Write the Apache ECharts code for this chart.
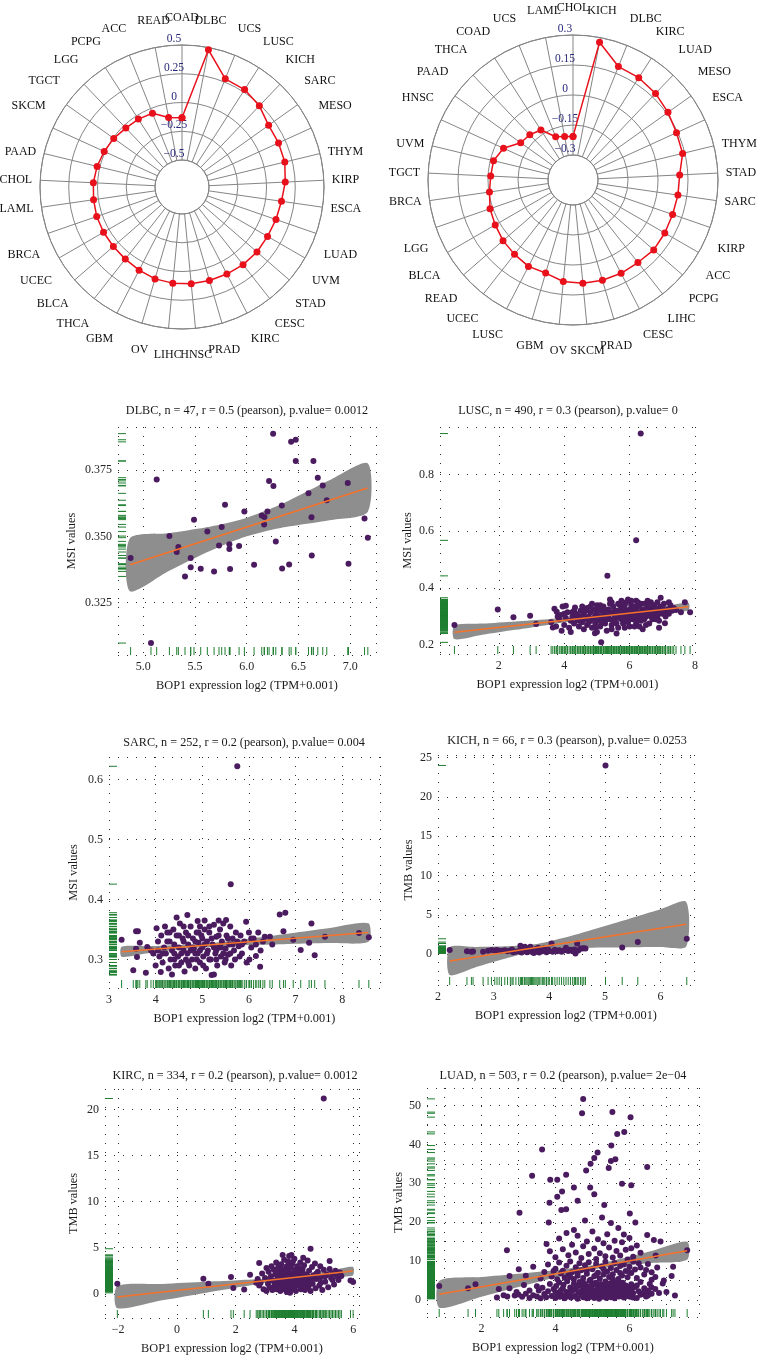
<!DOCTYPE html>
<html><head><meta charset="utf-8">
<script src="https://cdn.jsdelivr.net/npm/echarts@6/dist/echarts.min.js"></script>
<style>html,body{margin:0;padding:0;background:#fff}#c{width:765px;height:1358px}</style>
</head><body><div id="c"></div>
<script>
// ---------------- Radar data ----------------
const radar1Categories = ['COAD','DLBC','UCS','LUSC','KICH','SARC','MESO','THYM','KIRP','ESCA','LUAD','UVM','STAD','CESC','KIRC','PRAD','HNSC','LIHC','OV','GBM','THCA','BLCA','UCEC','BRCA','LAML','CHOL','PAAD','SKCM','TGCT','LGG','PCPG','ACC','READ'];
const radar1Values = [-0.132,0.480,0.278,0.272,0.240,0.190,0.188,0.185,0.164,0.139,0.130,0.124,0.128,0.124,0.117,0.112,0.111,0.105,0.098,0.079,0.063,0.055,0.053,0.050,0.042,0.037,0.025,0.009,-0.006,-0.027,-0.033,-0.044,-0.119];
const radar1Ticks = [-0.5,-0.25,0,0.25,0.5];
const radar1TickLabels = ['\u22120.5','\u22120.25','0','0.25','0.5'];

const radar2Categories = ['CHOL','KICH','DLBC','KIRC','LUAD','MESO','ESCA','THYM','STAD','SARC','KIRP','ACC','PCPG','LIHC','CESC','PRAD','SKCM','OV','GBM','LUSC','UCEC','READ','BLCA','LGG','BRCA','TGCT','UVM','HNSC','PAAD','THCA','COAD','UCS','LAML'];
const radar2Values = [-0.207,0.276,0.186,0.183,0.173,0.158,0.144,0.139,0.109,0.105,0.102,0.105,0.109,0.100,0.100,0.097,0.094,0.085,0.060,0.061,0.048,0.038,0.024,0.014,-0.003,-0.013,-0.016,-0.043,-0.104,-0.112,-0.128,-0.192,-0.203];
const radar2Ticks = [-0.3,-0.15,0,0.15,0.3];
const radar2TickLabels = ['\u22120.3','\u22120.15','0','0.15','0.3'];

// ---------------- Scatter panels data ----------------
const xAxisTitle = 'BOP1 expression log2 (TPM+0.001)';

// DLBC (MSI)
const dlbcTitle = 'DLBC, n = 47, r = 0.5 (pearson), p.value= 0.0012';
const dlbcPoints = [[4.877,0.3418],[5.074,0.3098],[5.129,0.3714],[5.252,0.3501],[5.323,0.3441],[5.339,0.346],[5.403,0.3349],[5.458,0.3418],[5.458,0.3384],[5.49,0.3563],[5.555,0.3378],[5.619,0.3518],[5.684,0.3368],[5.732,0.3466],[5.758,0.3535],[5.79,0.3619],[5.832,0.347],[5.832,0.3452],[5.839,0.3377],[5.926,0.3464],[5.977,0.3594],[6.071,0.3393],[6.145,0.3579],[6.168,0.3545],[6.171,0.3573],[6.2,0.3594],[6.216,0.3709],[6.255,0.3887],[6.258,0.369],[6.281,0.3481],[6.339,0.3616],[6.342,0.3379],[6.41,0.3394],[6.429,0.3856],[6.474,0.3864],[6.474,0.3784],[6.597,0.3662],[6.626,0.3572],[6.629,0.3428],[6.645,0.3784],[6.687,0.3721],[6.735,0.3692],[6.774,0.3636],[6.977,0.3701],[6.984,0.3397],[7.139,0.3567],[7.171,0.3495]];
const dlbcFit = [[4.871,0.3393],[7.168,0.3682]];
const dlbcBand = [[4.87,0.3293,0.3493],[5.25,0.3370,0.3512],[5.6,0.3437,0.3533],[5.8,0.3471,0.3549],[6.0,0.3500,0.3570],[6.2,0.3521,0.3599],[6.4,0.3537,0.3633],[6.8,0.3561,0.3711],[7.17,0.3592,0.3775]];
const dlbcXTicks = [5.0,5.5,6.0,6.5,7.0];
const dlbcXTickLabels = ['5.0','5.5','6.0','6.5','7.0'];
const dlbcYTicks = [0.325,0.35,0.375];
const dlbcYTickLabels = ['0.325','0.350','0.375'];

// LUSC (MSI)
const luscTitle = 'LUSC, n = 490, r = 0.3 (pearson), p.value= 0';
const luscPoints = [[0.642,0.270],[1.967,0.325],[2.446,0.297],[2.956,0.303],[3.14,0.274],[3.70,0.327],[3.77,0.317],[3.65,0.261],[3.92,0.25],[6.34,0.944],[6.2,0.568],[5.32,0.443],[5.13,0.209],[7.85,0.315],[7.69,0.35],[7.57,0.315],[7.42,0.323],[7.1,0.315],[7.08,0.276],[6.95,0.366],[4.94,0.241],[4.33,0.332],[4.05,0.338],
[3.6,0.28],[3.75,0.265],[3.85,0.29],[3.9,0.305],[4.0,0.27],[4.05,0.295],[4.1,0.315],[4.15,0.26],[4.2,0.285],[4.25,0.30],[4.3,0.275],[4.35,0.31],[4.4,0.29],[4.45,0.265],[4.5,0.32],[4.5,0.30],[4.55,0.28],[4.6,0.255],[4.6,0.31],[4.65,0.295],[4.7,0.33],[4.7,0.27],[4.75,0.30],[4.8,0.285],[4.8,0.315],[4.85,0.26],[4.9,0.325],[4.9,0.295],[4.95,0.275],[5.0,0.31],[5.0,0.34],[5.05,0.285],[5.1,0.30],[5.1,0.265],[5.15,0.32],[5.2,0.29],[5.2,0.335],[5.25,0.275],[5.3,0.305],[5.3,0.25],[5.35,0.325],[5.4,0.29],[5.4,0.345],[5.45,0.27],[5.5,0.31],[5.5,0.335],[5.55,0.285],[5.6,0.30],[5.6,0.32],[5.65,0.26],[5.7,0.34],[5.7,0.295],[5.75,0.315],[5.8,0.275],[5.8,0.33],[5.85,0.30],[5.9,0.35],[5.9,0.285],[5.95,0.32],[6.0,0.305],[6.0,0.265],[6.05,0.34],[6.1,0.29],[6.1,0.325],[6.15,0.31],[6.2,0.355],[6.2,0.275],[6.25,0.30],[6.3,0.335],[6.3,0.315],[6.35,0.285],[6.4,0.32],[6.45,0.345],[6.5,0.30],[6.5,0.27],[6.55,0.33],[6.6,0.31],[6.65,0.35],[6.7,0.29],[6.7,0.325],[6.75,0.34],[6.8,0.305],[6.85,0.32],[6.9,0.285],[6.95,0.335],[7.0,0.31],[7.05,0.345],[7.15,0.325],[7.25,0.34],[7.35,0.33],[4.2,0.245],[5.0,0.245],[5.6,0.24],[6.4,0.255],[5.95,0.36],[5.4,0.36],[4.85,0.345],[3.95,0.335],[6.15,0.265],[6.9,0.26],[5.25,0.32],[4.65,0.32],[5.75,0.355],[6.55,0.355],
[4.3,0.32],[4.4,0.305],[4.55,0.335],[4.6,0.29],[4.75,0.28],[4.8,0.335],[4.95,0.305],[5.0,0.29],[5.05,0.325],[5.15,0.28],[5.2,0.31],[5.3,0.29],[5.35,0.305],[5.45,0.315],[5.5,0.285],[5.55,0.32],[5.6,0.275],[5.65,0.31],[5.7,0.32],[5.75,0.29],[5.8,0.31],[5.85,0.325],[5.9,0.305],[5.95,0.28],[6.0,0.325],[6.05,0.3],[6.1,0.31],[6.15,0.335],[6.2,0.32],[6.25,0.29],[6.3,0.30],[6.35,0.345],[6.4,0.305],[6.45,0.29],[6.5,0.32],[6.55,0.31],[6.6,0.34],[6.65,0.3],[6.7,0.31],[6.75,0.32],[6.8,0.33],[6.85,0.3],[6.9,0.315],[7.0,0.33],[7.1,0.3],[7.2,0.31],[7.3,0.32],[5.1,0.34],[5.45,0.35],[5.65,0.345],[5.85,0.34],[6.05,0.355],[6.25,0.35],[4.95,0.26],[5.45,0.255],[5.85,0.26],[6.3,0.265],[6.6,0.275],[4.45,0.285],[4.25,0.315],[4.0,0.31],[3.8,0.30],[6.85,0.35],[7.2,0.35],[5.25,0.295],[5.55,0.3],[5.75,0.305],[6.45,0.325],[6.0,0.29],[6.8,0.29]];
const luscFit = [[0.642,0.2445],[7.8,0.3347]];
const luscBand = [[0.64,0.2205,0.2685],[1.5,0.2356,0.2750],[2.5,0.2531,0.2827],[3.5,0.2705,0.2905],[4.5,0.2874,0.2988],[5.3,0.2992,0.3072],[6.2,0.3084,0.3206],[7.0,0.3151,0.3341],[7.8,0.3214,0.3480]];
const luscXTicks = [2,4,6,8];
const luscXTickLabels = ['2','4','6','8'];
const luscYTicks = [0.2,0.4,0.6,0.8];
const luscYTickLabels = ['0.2','0.4','0.6','0.8'];

// SARC (MSI)
const sarcTitle = 'SARC, n = 252, r = 0.2 (pearson), p.value= 0.004';
const sarcPoints = [[3.27,0.333],[3.52,0.282],[3.58,0.347],[3.62,0.347],[3.66,0.328],[3.58,0.318],[3.6,0.304],[3.79,0.278],[3.82,0.321],[3.9,0.315],[3.95,0.31],[4.02,0.352],[4.05,0.33],[4.08,0.305],[4.11,0.279],[4.12,0.34],[4.15,0.295],[4.18,0.32],[4.2,0.355],[4.22,0.31],[4.25,0.345],[4.28,0.285],[4.3,0.33],[4.32,0.3],[4.35,0.315],[4.38,0.35],[4.4,0.325],[4.42,0.29],[4.45,0.34],[4.48,0.305],[4.5,0.32],[4.52,0.36],[4.55,0.295],[4.58,0.335],[4.6,0.315],[4.62,0.28],[4.65,0.345],[4.68,0.374],[4.68,0.31],[4.7,0.325],[4.72,0.29],[4.75,0.355],[4.78,0.3],[4.8,0.335],[4.82,0.318],[4.85,0.285],[4.88,0.345],[4.9,0.364],[4.9,0.31],[4.92,0.328],[4.95,0.295],[4.98,0.34],[5.0,0.32],[5.02,0.305],[5.05,0.35],[5.08,0.285],[5.1,0.33],[5.12,0.315],[5.15,0.345],[5.18,0.3],[5.2,0.274],[5.22,0.325],[5.25,0.358],[5.28,0.31],[5.3,0.338],[5.32,0.29],[5.35,0.32],[5.38,0.35],[5.4,0.305],[5.42,0.33],[5.45,0.36],[5.48,0.295],[5.5,0.318],[5.51,0.366],[5.52,0.34],[5.55,0.308],[5.58,0.325],[5.6,0.355],[5.62,0.29],[5.61,0.4256],[5.65,0.335],[5.68,0.315],[5.7,0.3],[5.72,0.345],[5.75,0.622],[5.78,0.322],[5.8,0.305],[5.82,0.34],[5.85,0.31],[5.9,0.33],[5.94,0.363],[5.95,0.295],[6.0,0.345],[6.01,0.30],[6.05,0.32],[6.1,0.335],[6.15,0.306],[6.2,0.345],[6.24,0.288],[6.3,0.33],[6.34,0.338],[6.45,0.338],[6.5,0.325],[6.66,0.375],[6.74,0.347],[6.78,0.378],[6.95,0.333],[7.11,0.316],[7.29,0.328],[7.34,0.36],[7.41,0.307],[7.63,0.338],[8.36,0.344],[8.57,0.337],[4.35,0.275],[5.25,0.275],[4.6,0.355],[5.05,0.365],[4.45,0.37],[5.35,0.365],[4.0,0.29],[6.25,0.315],
[4.25,0.33],[4.4,0.31],[4.5,0.34],[4.55,0.31],[4.6,0.33],[4.65,0.3],[4.7,0.34],[4.75,0.315],[4.8,0.32],[4.85,0.33],[4.88,0.3],[4.92,0.345],[4.95,0.315],[5.0,0.335],[5.02,0.29],[5.05,0.325],[5.1,0.31],[5.15,0.3],[5.2,0.335],[5.25,0.32],[5.3,0.3],[5.35,0.34],[5.4,0.32],[5.45,0.31],[5.5,0.3],[5.55,0.335],[5.65,0.325],[5.75,0.33],[5.85,0.325],[4.3,0.345],[4.15,0.31],[4.05,0.315],[4.95,0.355],[5.15,0.355],[4.7,0.295],[4.5,0.29],[4.85,0.31],[5.3,0.315],[5.6,0.31],[6.05,0.335],[6.15,0.325],[4.4,0.3]];
const sarcFit = [[3.27,0.3128],[8.56,0.345]];
const sarcBand = [[3.27,0.3045,0.3211],[3.8,0.3099,0.3221],[4.4,0.3157,0.3237],[5.0,0.3203,0.3263],[5.6,0.323,0.331],[6.2,0.3245,0.3367],[6.9,0.3259,0.3439],[7.7,0.3274,0.3522],[8.56,0.3295,0.3605]];
const sarcXTicks = [3,4,5,6,7,8];
const sarcXTickLabels = ['3','4','5','6','7','8'];
const sarcYTicks = [0.3,0.4,0.5,0.6];
const sarcYTickLabels = ['0.3','0.4','0.5','0.6'];

// KICH (TMB)
const kichTitle = 'KICH, n = 66, r = 0.3 (pearson), p.value= 0.0253';
const kichPoints = [[2.21,0.51],[2.52,0.35],[2.6,0.3],[2.63,0.33],[2.81,0.3],[2.9,0.42],[2.96,0.51],[3.02,0.45],[3.06,0.51],[3.1,0.38],[3.14,0.42],[3.2,0.5],[3.25,0.35],[3.3,0.45],[3.33,0.6],[3.35,0.25],[3.4,0.3],[3.45,0.4],[3.48,1.06],[3.5,0.2],[3.52,0.55],[3.55,0.35],[3.56,0.93],[3.58,0.6],[3.6,0.25],[3.62,0.45],[3.64,0.7],[3.66,0.93],[3.68,0.3],[3.7,0.5],[3.72,0.15],[3.74,0.4],[3.76,0.65],[3.78,0.3],[3.8,0.8],[3.82,0.2],[3.85,0.55],[3.88,0.35],[3.9,0.7],[3.92,0.45],[3.95,0.25],[3.98,0.6],[4.0,0.4],[4.04,1.36],[4.06,0.3],[4.1,0.55],[4.14,0.35],[4.18,0.5],[4.22,0.3],[4.26,0.45],[4.3,0.8],[4.34,0.4],[4.38,0.55],[4.42,0.35],[4.45,0.6],[4.47,0.08],[4.5,1.36],[4.52,0.45],[4.56,0.7],[4.59,0.72],[4.62,0.75],[4.65,0.72],[5.01,24.0],[5.31,0.85],[5.59,1.53],[6.47,1.95]];
const kichFit = [[2.21,-0.89],[6.46,3.81]];
const kichBand = [[2.21,-2.65,0.87],[2.7,-1.61,0.91],[3.2,-0.58,0.99],[3.8,0.42,1.32],[4.4,0.75,2.32],[5.0,0.84,3.56],[5.6,0.88,4.84],[6.0,0.90,5.70],[6.46,0.98,6.64]];
const kichXTicks = [2,3,4,5,6];
const kichXTickLabels = ['2','3','4','5','6'];
const kichYTicks = [0,5,10,15,20,25];
const kichYTickLabels = ['0','5','10','15','20','25'];

// KIRC (TMB)
const kircTitle = 'KIRC, n = 334, r = 0.2 (pearson), p.value= 0.0012';
const kircPoints = [[-2.03,1.09],[0.9,1.63],[1.07,1.09],[1.84,1.81],[1.92,0.62],[2.29,0.47],[2.49,2.07],[2.8,3.33],[4.55,4.89],[5.0,21.2],[5.2,3.55],[5.91,1.45],[6.0,1.27],[5.6,1.92],
[2.75,1.6],[2.8,0.9],[2.85,1.2],[2.9,2.2],[2.95,0.5],[3.0,1.7],[3.05,2.8],[3.05,0.3],[3.1,1.1],[3.12,2.4],[3.15,0.7],[3.2,1.9],[3.22,3.0],[3.25,0.4],[3.28,1.4],[3.3,2.6],[3.32,0.9],[3.35,2.1],[3.38,3.4],[3.4,0.5],[3.42,1.6],[3.45,2.9],[3.48,1.0],[3.5,2.3],[3.52,0.3],[3.55,1.8],[3.55,3.2],[3.58,0.8],[3.6,2.6],[3.62,1.3],[3.65,3.7],[3.65,0.5],[3.68,2.0],[3.7,1.1],[3.72,2.9],[3.74,0.2],[3.75,1.6],[3.78,3.5],[3.8,2.4],[3.8,0.7],[3.82,4.1],[3.84,1.3],[3.86,2.8],[3.88,0.4],[3.9,1.9],[3.92,3.2],[3.94,1.0],[3.96,2.2],[3.98,0.6],[4.0,3.8],[4.0,1.5],[4.02,2.6],[4.05,0.3],[4.08,1.8],[4.1,3.0],[4.12,0.9],[4.15,2.3],[4.18,1.2],[4.2,3.4],[4.22,0.5],[4.25,1.9],[4.28,2.7],[4.3,1.0],[4.33,3.1],[4.36,0.4],[4.4,2.1],[4.42,1.4],[4.45,3.6],[4.48,0.8],[4.5,2.5],[4.52,1.7],[4.55,0.3],[4.6,2.9],[4.62,1.1],[4.65,2.0],[4.7,3.3],[4.72,0.6],[4.75,1.6],[4.8,2.4],[4.85,0.9],[4.88,3.0],[4.9,1.8],[4.95,0.4],[5.0,2.6],[5.05,1.3],[5.1,2.1],[5.15,0.7],[5.2,2.7],[5.25,1.7],[5.3,2.2],[5.35,1.0],[5.4,2.5],[5.45,1.9],[5.5,1.5],[5.55,2.3],[3.6,4.2],[3.9,4.2],[4.3,3.9],[2.7,1.2],[3.15,1.5],[3.45,1.9],[3.7,0.9],[4.05,2.0],[4.35,1.6],[3.85,0.1],
[3.35,1.2],[3.45,0.7],[3.5,1.5],[3.6,2.0],[3.65,1.2],[3.7,2.4],[3.75,0.5],[3.8,1.7],[3.85,2.1],[3.9,0.8],[3.95,1.4],[4.0,2.3],[4.05,1.1],[4.1,1.6],[4.15,2.8],[4.2,0.8],[4.25,1.4],[4.3,2.2],[4.35,1.1],[4.4,0.7],[4.45,1.9],[4.5,1.2],[3.55,2.7],[3.75,3.0],[3.95,3.5],[4.1,2.5],[3.4,2.4],[3.65,1.7],[3.85,1.0],[4.0,0.9],[4.6,1.5],[4.75,2.2],[4.9,1.2],[5.05,1.9],[5.3,1.5]];
const kircFit = [[-2.03,-0.36],[5.99,2.46]];
const kircBand = [[-2.03,-1.56,0.84],[-0.5,-0.71,1.07],[1.0,0.12,1.30],[2.2,0.77,1.49],[3.2,1.29,1.68],[3.8,1.54,1.84],[4.5,1.73,2.15],[5.3,1.88,2.56],[5.99,1.99,2.93]];
const kircXTicks = [-2,0,2,4,6];
const kircXTickLabels = ['\u22122','0','2','4','6'];
const kircYTicks = [0,5,10,15,20];
const kircYTickLabels = ['0','5','10','15','20'];

// LUAD (TMB)
const luadTitle = 'LUAD, n = 503, r = 0.2 (pearson), p.value= 2e\u221204';
const luadPoints = [[0.86,3.59],[1.64,2.99],[1.84,4.02],[2.42,0.6],[2.47,2.82],[2.69,12.8],[2.76,6.15],[3.03,22.4],[3.01,7.86],[3.37,31.9],[3.64,38.7],[3.84,25.0],[3.86,30.9],[4.05,30.9],[4.05,26.5],[4.18,27.9],[4.29,32.2],[4.16,23.1],[4.29,23.3],[4.75,51.7],[4.72,48.0],[4.83,33.3],[4.95,35.0],[5.05,36.5],[5.14,37.9],[4.94,28.9],[5.05,27.2],[5.44,33.9],[5.51,39.7],[5.67,42.7],[5.54,48.3],[5.86,43.2],[6.03,47.0],[5.5,35.7],[5.62,36.2],[5.8,29.9],[6.05,29.5],[6.48,34.2],[5.32,24.4],[4.5,28.9],[4.6,25.5],[6.01,22.2],[6.71,11.4],[7.56,12.8],[7.23,1.1],[7.14,6.15],[7.18,8.55],[6.93,5.0],
[2.6,1.2],[2.7,0.9],[2.76,3.0],[2.9,1.1],[3.0,1.4],[3.1,0.8],[3.2,1.6],[3.3,0.5],[3.4,1.2],[3.5,0.9],[3.55,2.4],[3.6,0.4],[3.65,3.1],[3.7,1.5],[3.75,0.7],[3.8,2.2],[3.85,4.1],[3.9,1.0],[3.95,2.8],[4.0,0.5],[4.02,3.6],[4.05,1.7],[4.1,4.5],[4.12,0.8],[4.15,2.5],[4.2,1.2],[4.22,3.9],[4.25,0.4],[4.3,2.0],[4.32,4.8],[4.35,1.4],[4.4,3.2],[4.42,0.6],[4.45,2.4],[4.5,4.2],[4.52,1.0],[4.55,3.0],[4.6,0.3],[4.62,1.9],[4.65,4.6],[4.7,1.3],[4.72,3.5],[4.75,0.7],[4.78,2.6],[4.8,4.0],[4.82,1.6],[4.85,0.4],[4.88,3.3],[4.9,2.1],[4.92,4.9],[4.95,0.9],[4.98,2.8],[5.0,1.4],[5.02,3.8],[5.05,0.5],[5.08,2.3],[5.1,4.4],[5.12,1.1],[5.15,3.1],[5.18,0.3],[5.2,1.8],[5.22,4.1],[5.25,2.6],[5.28,0.8],[5.3,3.5],[5.32,1.5],[5.35,4.7],[5.38,0.5],[5.4,2.2],[5.42,3.2],[5.45,1.2],[5.48,4.3],[5.5,0.7],[5.52,2.8],[5.55,1.7],[5.58,3.9],[5.6,0.4],[5.62,2.4],[5.65,1.1],[5.68,3.4],[5.7,4.9],[5.72,0.9],[5.75,2.0],[5.78,3.0],[5.8,1.4],[5.82,4.4],[5.85,0.6],[5.88,2.5],[5.9,3.7],[5.95,1.2],[6.0,2.9],[6.02,0.8],[6.05,4.0],[6.1,1.8],[6.15,3.3],[6.2,0.5],[6.25,2.2],[6.3,4.6],[6.35,1.5],[6.4,3.0],[6.45,0.9],[6.5,2.4],[6.55,4.1],[6.6,1.6],[6.7,2.8],[6.8,1.8],[6.9,4.2],[7.0,2.0],
[4.0,2.0],[4.1,1.2],[4.2,3.0],[4.3,0.9],[4.4,1.8],[4.5,2.6],[4.55,0.8],[4.6,3.5],[4.7,2.2],[4.75,4.5],[4.8,1.1],[4.85,2.9],[4.9,0.6],[4.95,3.6],[5.0,2.2],[5.05,4.2],[5.1,1.7],[5.15,0.8],[5.2,3.0],[5.25,1.3],[5.3,2.3],[5.35,0.9],[5.4,4.0],[5.45,2.7],[5.5,1.6],[5.55,3.3],[5.6,2.0],[5.65,4.4],[5.7,1.0],[5.75,3.6],[5.8,2.5],[5.85,1.7],[5.9,0.9],[5.95,3.1],[6.0,1.9],[6.05,2.6],[6.1,0.6],[6.2,3.7],[6.3,1.3],[6.4,2.1],[6.5,1.1],[6.6,3.2],[3.5,3.5],[3.3,2.4],[2.95,2.0],[3.15,3.8],
[3.2,6.2],[3.4,8.5],[3.6,5.5],[3.7,7.2],[3.8,9.1],[3.9,6.0],[4.0,8.0],[4.05,5.3],[4.1,9.6],[4.15,6.8],[4.2,7.5],[4.25,5.7],[4.3,8.8],[4.35,6.4],[4.4,9.9],[4.45,7.1],[4.5,5.4],[4.55,8.4],[4.6,6.2],[4.65,9.4],[4.7,7.6],[4.75,5.6],[4.8,8.9],[4.85,6.7],[4.9,9.7],[4.95,5.2],[5.0,7.9],[5.05,6.1],[5.1,9.2],[5.15,7.0],[5.2,5.5],[5.25,8.6],[5.3,6.5],[5.35,9.8],[5.4,7.3],[5.45,5.9],[5.5,8.2],[5.55,6.6],[5.6,9.5],[5.65,7.7],[5.7,5.4],[5.75,8.7],[5.8,6.3],[5.85,9.1],[5.9,7.4],[5.95,5.8],[6.0,8.5],[6.05,6.9],[6.1,9.9],[6.15,7.8],[6.2,5.6],[6.3,8.3],[6.4,6.5],[6.5,9.2],[6.6,7.1],[6.7,5.9],[4.6,6.9],[4.85,7.6],[5.1,6.4],[5.3,7.9],[5.55,5.3],[5.75,6.9],[6.0,7.2],[4.4,5.9],[3.95,7.4],[6.25,9.4],[6.45,7.7],[6.75,8.3],[6.6,5.2],
[3.76,14.4],[3.82,19.9],[3.85,12.5],[4.0,11.0],[4.1,15.8],[4.2,13.0],[4.3,17.2],[4.35,11.5],[4.45,14.2],[4.5,18.0],[4.55,12.2],[4.6,16.5],[4.7,10.8],[4.75,13.8],[4.8,20.4],[4.85,15.0],[4.9,11.8],[5.0,17.6],[5.05,13.2],[5.1,10.5],[5.15,15.6],[5.2,12.0],[5.26,21.2],[5.3,14.6],[5.35,11.2],[5.4,16.9],[5.45,13.5],[5.5,19.8],[5.55,10.9],[5.6,15.2],[5.65,12.6],[5.7,18.5],[5.75,11.4],[5.8,14.8],[5.85,16.8],[5.9,12.9],[5.95,10.4],[6.0,15.9],[6.05,13.3],[6.1,11.1],[6.16,19.9],[6.2,14.0],[6.3,12.1],[6.48,16.7],[6.66,15.4],[6.84,15.0]];
const luadFit = [[0.865,1.45],[7.56,12.65]];
const luadBand = [[0.865,-2.01,4.91],[2.0,0.83,5.87],[3.0,3.32,6.72],[4.0,5.75,7.63],[4.9,7.65,8.75],[5.8,8.77,10.65],[6.6,9.50,12.58],[7.56,10.33,14.97]];
const luadXTicks = [2,4,6];
const luadXTickLabels = ['2','4','6'];
const luadYTicks = [0,10,20,30,40,50];
const luadYTickLabels = ['0','10','20','30','40','50'];

// ---------------- Styling / layout ----------------
const FONT = '"Liberation Serif","DejaVu Serif",serif';
const GRID_GRAY = '#858585';
const RED = '#e8101a';
const PURPLE = '#4b1b5f';
const BAND_GRAY = '#8e8e8e';
const ORANGE = '#f7722a';
const GREEN = '#1f7f31';

function fmtFrom(ticks, labels) {
  return function (v) {
    for (let i = 0; i < ticks.length; i++) if (Math.abs(v - ticks[i]) < 1e-7) return labels[i];
    return '';
  };
}
function stepOf(ticks) { return +((ticks[1] - ticks[0]).toFixed(6)); }

const panels = [
  {title: dlbcTitle, pts: dlbcPoints, fit: dlbcFit, band: dlbcBand, xt: dlbcXTicks, xl: dlbcXTickLabels, yt: dlbcYTicks, yl: dlbcYTickLabels, yName: 'MSI values',
   grid: {left: 118, top: 427, width: 258, height: 228}, xr: [4.755, 7.25], yr: [0.3053, 0.3912], nameGapY: 40, titleX: 247, titleY: 405},
  {title: luscTitle, pts: luscPoints, fit: luscFit, band: luscBand, xt: luscXTicks, xl: luscXTickLabels, yt: luscYTicks, yl: luscYTickLabels, yName: 'MSI values',
   grid: {left: 440, top: 427, width: 255, height: 227}, xr: [0.2, 8.0], yr: [0.168, 0.967], nameGapY: 26, titleX: 568, titleY: 405},
  {title: sarcTitle, pts: sarcPoints, fit: sarcFit, band: sarcBand, xt: sarcXTicks, xl: sarcXTickLabels, yt: sarcYTicks, yl: sarcYTickLabels, yName: 'MSI values',
   grid: {left: 109, top: 757, width: 271, height: 231}, xr: [3.0, 8.81], yr: [0.2525, 0.6375], nameGapY: 29, titleX: 244, titleY: 737},
  {title: kichTitle, pts: kichPoints, fit: kichFit, band: kichBand, xt: kichXTicks, xl: kichXTickLabels, yt: kichYTicks, yl: kichYTickLabels, yName: 'TMB values',
   grid: {left: 438, top: 755, width: 256, height: 230}, xr: [2.0, 6.6], yr: [-3.93, 25.33], nameGapY: 23, titleX: 567, titleY: 735},
  {title: kircTitle, pts: kircPoints, fit: kircFit, band: kircBand, xt: kircXTicks, xl: kircXTickLabels, yt: kircYTicks, yl: kircYTickLabels, yName: 'TMB values',
   grid: {left: 105, top: 1089, width: 254, height: 229}, xr: [-2.45, 6.2], yr: [-2.63, 22.23], nameGapY: 25, titleX: 235, titleY: 1070},
  {title: luadTitle, pts: luadPoints, fit: luadFit, band: luadBand, xt: luadXTicks, xl: luadXTickLabels, yt: luadYTicks, yl: luadYTickLabels, yName: 'TMB values',
   grid: {left: 427, top: 1088, width: 272, height: 229}, xr: [0.53, 7.88], yr: [-4.4, 54.5], nameGapY: 17, titleX: 563, titleY: 1070, minor: true}
];

const dotted = {color: '#2a2a2a', width: 1, type: [1, 8]};

const option = {
  animation: false,
  backgroundColor: '#ffffff',
  title: [],
  polar: [
    {center: [182, 187], radius: [27, 142]},
    {center: [573, 180], radius: [25, 145]}
  ],
  angleAxis: [],
  radiusAxis: [],
  grid: [],
  xAxis: [],
  yAxis: [],
  series: []
};

[[radar1Categories, radar1Values, radar1Ticks, radar1TickLabels], [radar2Categories, radar2Values, radar2Ticks, radar2TickLabels]].forEach(function (r, pi) {
  const cats = r[0], vals = r[1], ticks = r[2], tlabels = r[3];
  option.angleAxis.push({
    polarIndex: pi, type: 'value', min: 0, max: cats.length, interval: 1,
    startAngle: 90, clockwise: true,
    axisLine: {show: true, lineStyle: {color: GRID_GRAY, width: 1}},
    axisTick: {show: false},
    splitLine: {show: true, lineStyle: {color: GRID_GRAY, width: 1}},
    axisLabel: {formatter: function (v) { return v < cats.length ? cats[v] : ''; }, color: '#111', fontFamily: FONT, fontSize: 12, margin: 8, padding: [13, 0, 13, 0]}
  });
  option.radiusAxis.push({
    polarIndex: pi, type: 'value', min: ticks[0], max: ticks[ticks.length - 1], interval: stepOf(ticks),
    axisLine: {show: false}, axisTick: {show: false},
    splitLine: {show: true, lineStyle: {color: GRID_GRAY, width: 1}},
    axisLabel: {formatter: fmtFrom(ticks, tlabels), color: '#28287a', fontFamily: FONT, fontSize: 11.5, margin: 8, align: 'center', verticalAlign: 'bottom'},
    z: 4
  });
  const data = cats.map(function (c, i) { return [vals[i], i]; });
  data.push([vals[0], cats.length]);
  option.series.push({
    type: 'line', coordinateSystem: 'polar', polarIndex: pi, data: data,
    symbol: 'circle', symbolSize: 7, showSymbol: true,
    lineStyle: {color: RED, width: 1.5}, itemStyle: {color: RED}, z: 6
  });
});

panels.forEach(function (p, i) {
  const xStep = stepOf(p.xt), yStep = stepOf(p.yt);
  option.grid.push(Object.assign({containLabel: false}, p.grid));
  option.title.push({text: p.title, left: p.titleX, top: p.titleY, textAlign: 'center', padding: 0,
    textStyle: {fontFamily: FONT, fontSize: 12.2, fontWeight: 'normal', color: '#1a1a1a'}});
  option.xAxis.push({
    gridIndex: i, type: 'value', min: p.xr[0], max: p.xr[1], minInterval: xStep, maxInterval: xStep, splitNumber: 5,
    axisLine: {show: false}, axisTick: {show: false},
    splitLine: {show: true, lineStyle: dotted},
    minorTick: {show: false, splitNumber: 2},
    minorSplitLine: {show: !!p.minor, lineStyle: dotted},
    axisLabel: {formatter: fmtFrom(p.xt, p.xl), color: '#262626', fontFamily: FONT, fontSize: 12, margin: 6, showMinLabel: true, showMaxLabel: true},
    name: xAxisTitle, nameLocation: 'middle', nameGap: 25,
    nameTextStyle: {fontFamily: FONT, fontSize: 12.3, color: '#1a1a1a'}
  });
  option.yAxis.push({
    gridIndex: i, type: 'value', min: p.yr[0], max: p.yr[1], minInterval: yStep, maxInterval: yStep, splitNumber: 5,
    axisLine: {show: false}, axisTick: {show: false},
    splitLine: {show: true, lineStyle: dotted},
    minorTick: {show: false, splitNumber: 2},
    minorSplitLine: {show: !!p.minor, lineStyle: dotted},
    axisLabel: {formatter: fmtFrom(p.yt, p.yl), color: '#262626', fontFamily: FONT, fontSize: 12, margin: 6, showMinLabel: true, showMaxLabel: true},
    name: p.yName, nameLocation: 'middle', nameGap: p.nameGapY, nameRotate: 90,
    nameTextStyle: {fontFamily: FONT, fontSize: 12.3, color: '#1a1a1a'}
  });
  const band = p.band;
  option.series.push({
    type: 'custom', xAxisIndex: i, yAxisIndex: i, data: band, silent: true, z: 2,
    encode: {x: 0, y: [1, 2]},
    renderItem: function (params, api) {
      if (params.dataIndex !== 0) return null;
      const up = band.map(function (b) { return api.coord([b[0], b[2]]); });
      const lo = band.slice().reverse().map(function (b) { return api.coord([b[0], b[1]]); });
      return {type: 'polygon', shape: {points: up.concat(lo), smooth: 0.25}, style: {fill: BAND_GRAY}};
    }
  });
  option.series.push({
    type: 'scatter', xAxisIndex: i, yAxisIndex: i, data: p.pts, symbolSize: 6,
    itemStyle: {color: PURPLE, opacity: 1}, z: 3, silent: true
  });
  option.series.push({
    type: 'line', xAxisIndex: i, yAxisIndex: i, data: p.fit, showSymbol: false, symbol: 'none',
    lineStyle: {color: ORANGE, width: 1.5}, z: 4, silent: true
  });
  option.series.push({
    type: 'custom', xAxisIndex: i, yAxisIndex: i, data: p.pts, silent: true, z: 5,
    renderItem: function (params, api) {
      const c = api.coord([api.value(0), api.value(1)]);
      const cs = params.coordSys;
      const yb = cs.y + cs.height;
      return {type: 'group', children: [
        {type: 'line', shape: {x1: c[0], y1: yb, x2: c[0], y2: yb - 8}, style: {stroke: GREEN, lineWidth: 1}},
        {type: 'line', shape: {x1: cs.x, y1: c[1], x2: cs.x + 8, y2: c[1]}, style: {stroke: GREEN, lineWidth: 1}}
      ]};
    }
  });
});

const chart = echarts.init(document.getElementById('c'), null, {renderer: 'canvas'});
chart.setOption(option);
</script>
</body></html>
